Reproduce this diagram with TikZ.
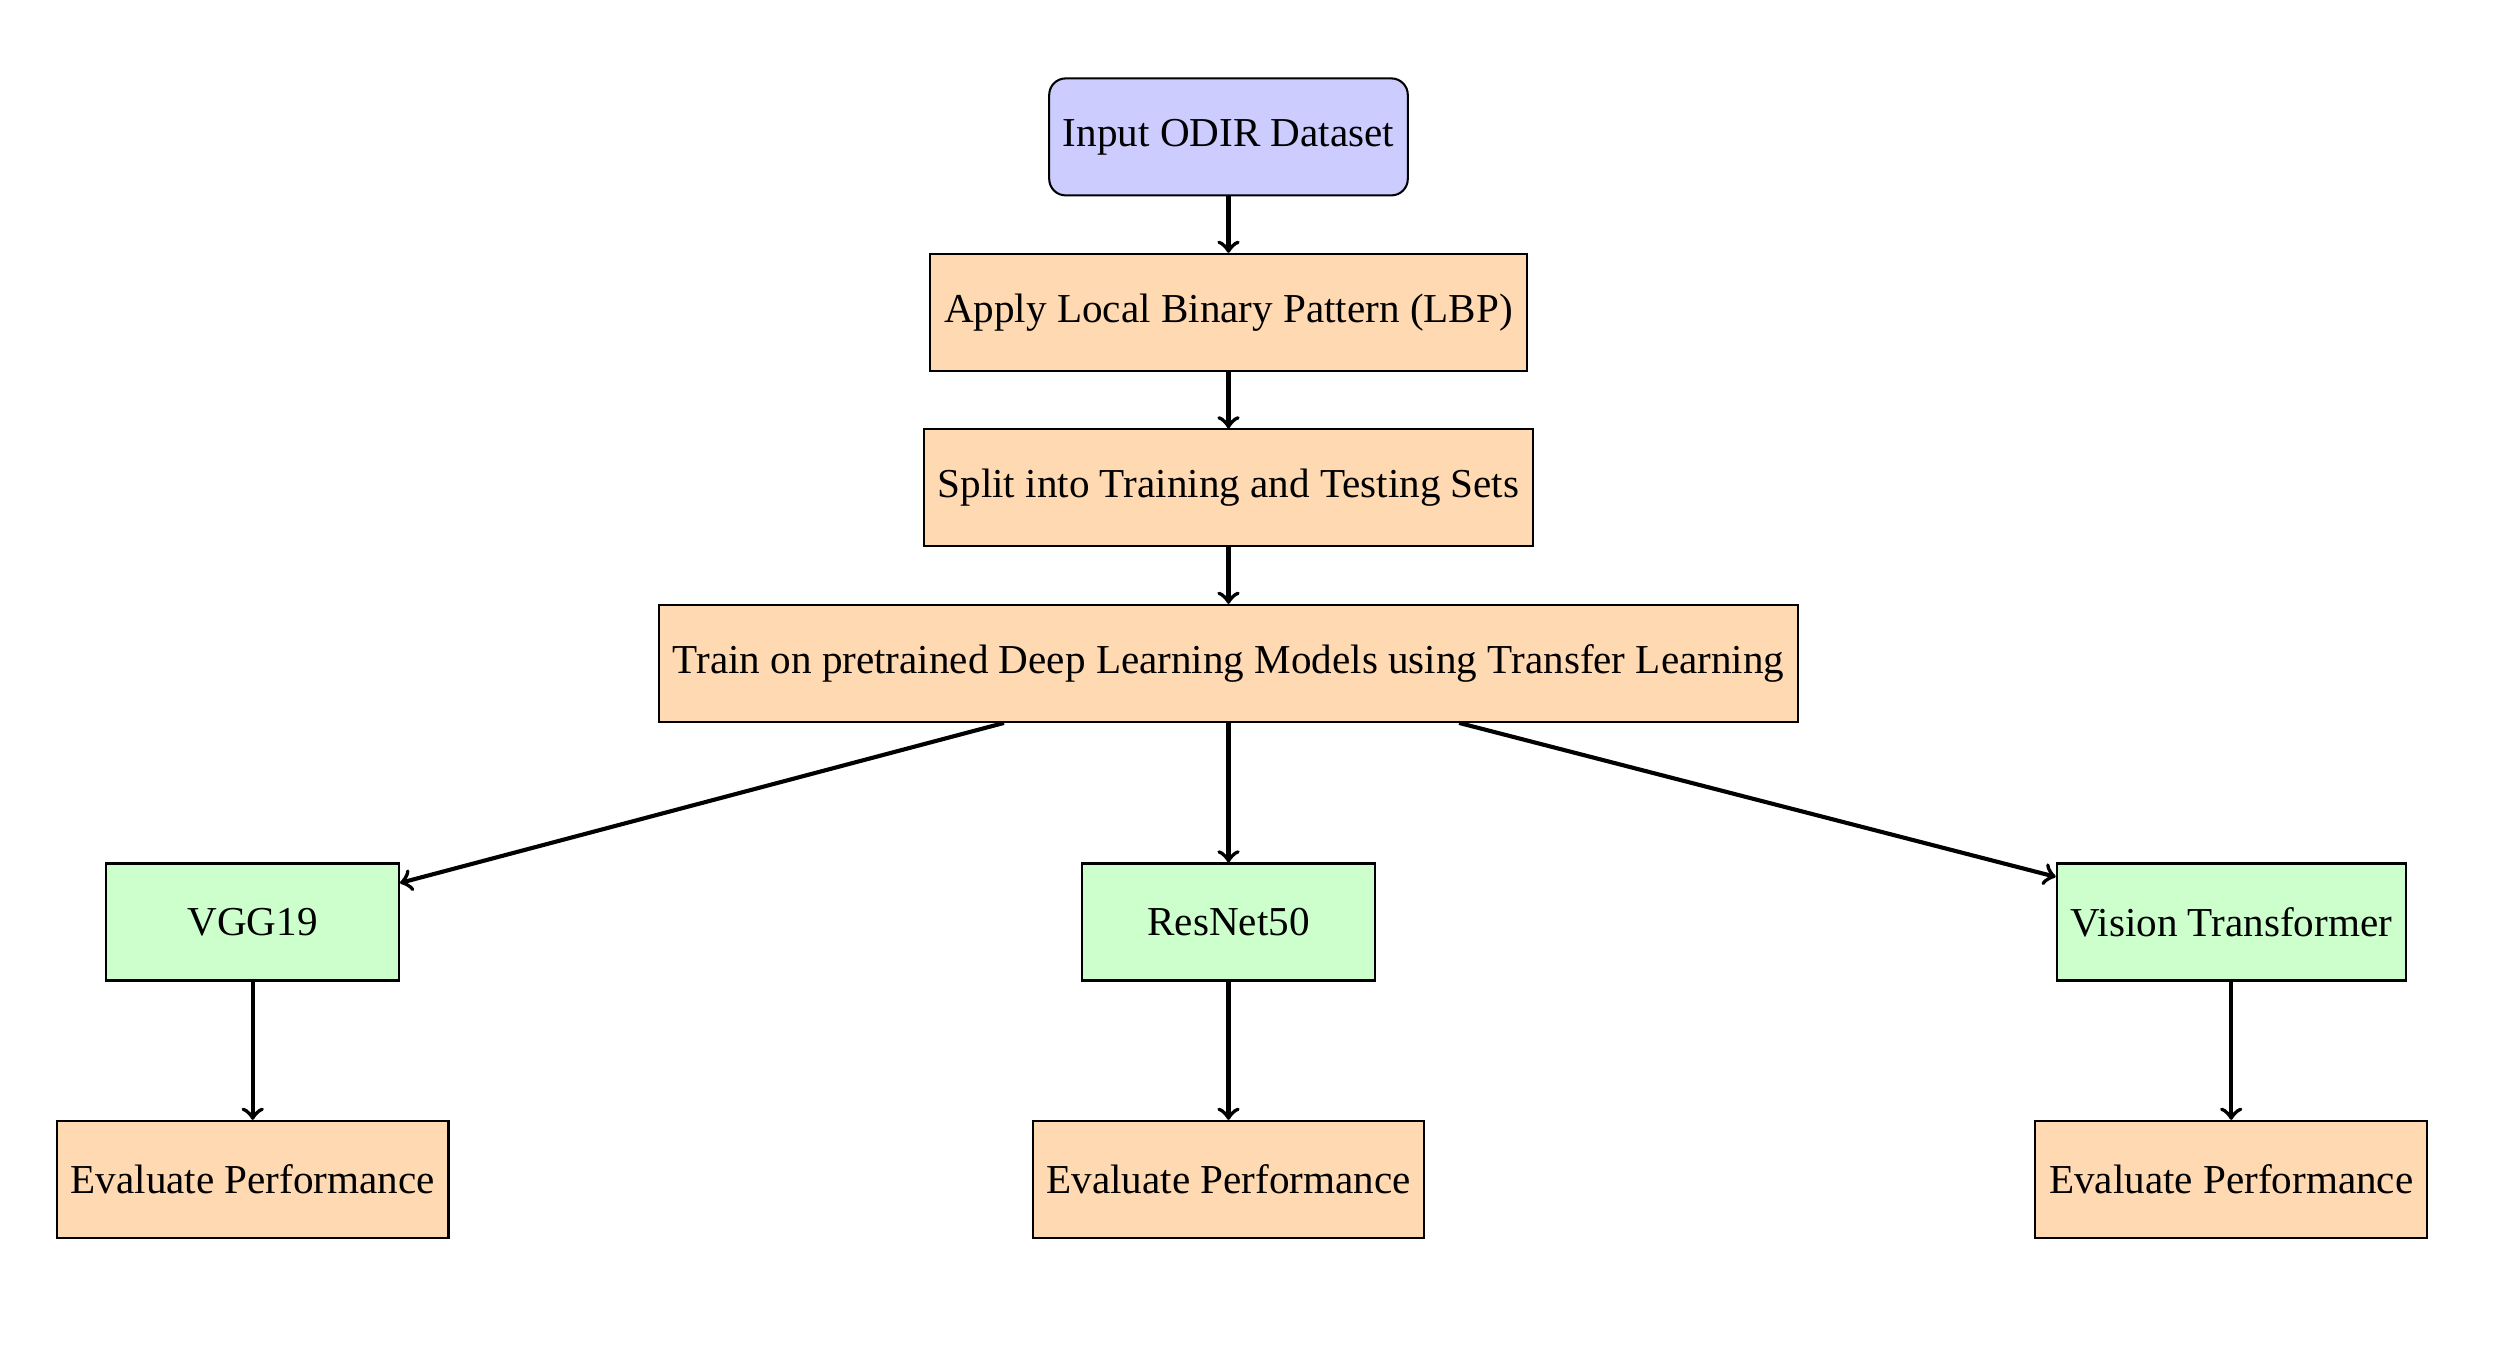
\documentclass[tikz,border=0pt]{standalone}
\usepackage{fontspec}
\setmainfont{Liberation Serif}
\usetikzlibrary{positioning}
\begin{document}
\begin{tikzpicture}[
  x=1cm,y=-1cm,
  base/.style={draw=black, line width=0.5pt, minimum height=1cm, font=\normalsize, inner sep=0.3333em},
  startbox/.style={base, rounded corners, fill=blue!20},
  procbox/.style={base, fill=orange!30},
  modelbox/.style={base, fill=green!20, minimum width=2.5cm},
  arr/.style={->, line width=1pt}
]
\useasboundingbox (0,0) rectangle (21.393,11.632);
\node[startbox] (input) at (10.50,1.17) {Input ODIR Dataset};
\node[procbox] (lbp) at (10.50,2.67) {Apply Local Binary Pattern (LBP)};
\node[procbox] (split) at (10.50,4.17) {Split into Training and Testing Sets};
\node[procbox] (train) at (10.50,5.67) {Train on pretrained Deep Learning Models using Transfer Learning};
\node[modelbox] (vgg) at (2.16,7.88) {VGG19};
\node[modelbox] (res) at (10.50,7.88) {ResNet50};
\node[modelbox] (vit) at (19.07,7.88) {Vision Transformer};
\node[procbox] (ev1) at (2.16,10.08) {Evaluate Performance};
\node[procbox] (ev2) at (10.50,10.08) {Evaluate Performance};
\node[procbox] (ev3) at (19.07,10.08) {Evaluate Performance};
\draw[arr] (input) -- (lbp);
\draw[arr] (lbp) -- (split);
\draw[arr] (split) -- (train);
\draw[arr] (train) -- (vgg);
\draw[arr] (train) -- (res);
\draw[arr] (train) -- (vit);
\draw[arr] (vgg) -- (ev1);
\draw[arr] (res) -- (ev2);
\draw[arr] (vit) -- (ev3);
\end{tikzpicture}
\end{document}
